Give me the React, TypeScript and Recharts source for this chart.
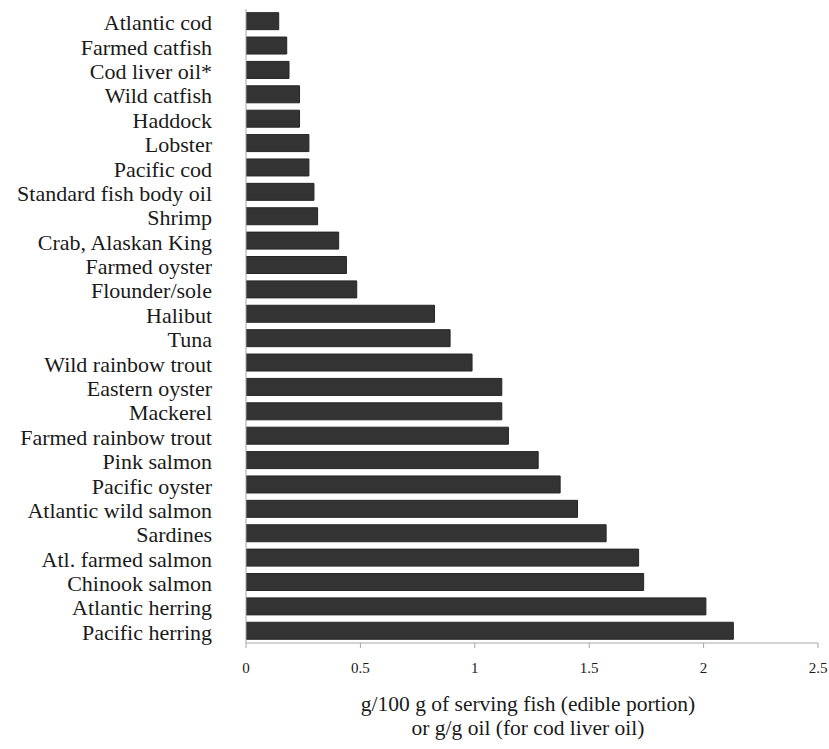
import React from "react";
import { BarChart, Bar, XAxis, YAxis, Label } from "recharts";

const categories = [
  "Atlantic cod",
  "Farmed catfish",
  "Cod liver oil*",
  "Wild catfish",
  "Haddock",
  "Lobster",
  "Pacific cod",
  "Standard fish body oil",
  "Shrimp",
  "Crab, Alaskan King",
  "Farmed oyster",
  "Flounder/sole",
  "Halibut",
  "Tuna",
  "Wild rainbow trout",
  "Eastern oyster",
  "Mackerel",
  "Farmed rainbow trout",
  "Pink salmon",
  "Pacific oyster",
  "Atlantic wild salmon",
  "Sardines",
  "Atl. farmed salmon",
  "Chinook salmon",
  "Atlantic herring",
  "Pacific herring",
];

const values = [
  0.143, 0.178, 0.188, 0.234, 0.234, 0.275, 0.275, 0.297, 0.313, 0.405, 0.439,
  0.484, 0.824, 0.892, 0.988, 1.118, 1.118, 1.147, 1.277, 1.373, 1.449, 1.574,
  1.716, 1.738, 2.01, 2.13,
];

const xTicks = [0, 0.5, 1, 1.5, 2, 2.5];
const axisLabelLines = [
  "g/100 g of serving fish (edible portion)",
  "or g/g oil (for cod liver oil)",
];

const data = categories.map((name, i) => ({ name, value: values[i] }));

const FONT = '"Liberation Serif", "Times New Roman", serif';

const YTick = (props: any) => {
  const { x, y, payload } = props;
  return (
    <text
      x={x}
      y={y}
      dy={9}
      textAnchor="end"
      fontFamily={FONT}
      fontSize={22}
      fill="#1a1a1a"
    >
      {payload.value}
    </text>
  );
};

const XLabel = (props: any) => {
  const vb = props.viewBox || {};
  const cx = vb.x + vb.width / 2 - 4;
  const base = vb.y;
  return (
    <text
      textAnchor="middle"
      fontFamily={FONT}
      fontSize={21.5}
      fill="#1a1a1a"
    >
      <tspan x={cx} y={base + 68}>
        {axisLabelLines[0]}
      </tspan>
      <tspan x={cx} y={base + 92}>
        {axisLabelLines[1]}
      </tspan>
    </text>
  );
};

export default function App() {
  return (
    <div style={{ position: "absolute", left: 0, top: 0, background: "#fff" }}>
      <BarChart
        width={829}
        height={749}
        data={data}
        layout="vertical"
        margin={{ top: 9, right: 11, bottom: 76, left: 0 }}
        barCategoryGap="15%"
      >
        <XAxis
          type="number"
          domain={[0, 2.5]}
          ticks={xTicks}
          tickFormatter={(v: number) => String(v)}
          height={30}
          stroke="#a6a6a6"
          tickSize={5}
          tickMargin={14}
          tick={{ fontFamily: FONT, fontSize: 15, fill: "#1a1a1a" }}
          allowDataOverflow
        >
          <Label content={<XLabel />} position="bottom" />
        </XAxis>
        <YAxis
          type="category"
          dataKey="name"
          width={246}
          stroke="#a6a6a6"
          tickLine={false}
          tickSize={0}
          tickMargin={34}
          interval={0}
          tick={<YTick />}
        />
        <Bar
          dataKey="value"
          fill="#333333"
          stroke="#262626"
          strokeWidth={1}
          isAnimationActive={false}
        />
      </BarChart>
    </div>
  );
}
